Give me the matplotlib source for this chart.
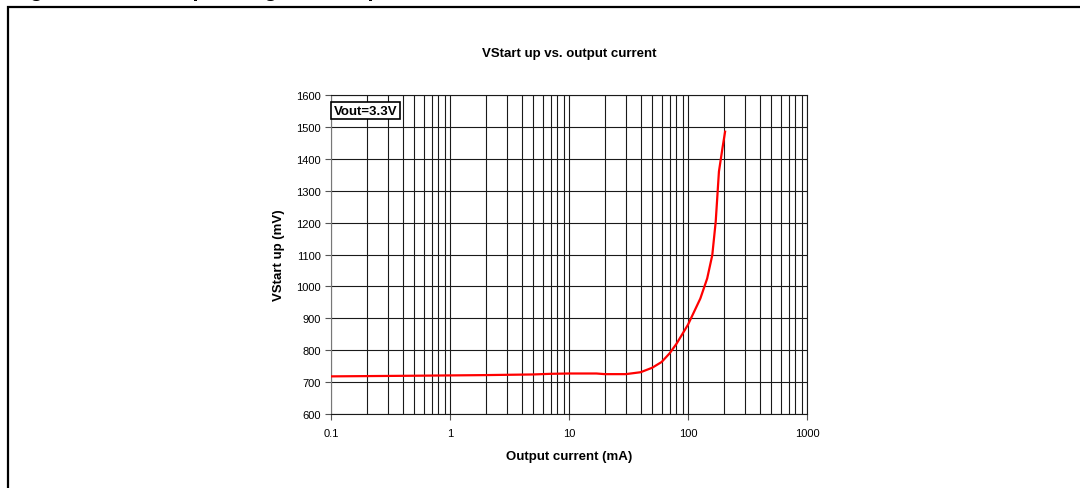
import matplotlib
matplotlib.use('Agg')
import matplotlib.pyplot as plt
from matplotlib.patches import Rectangle
from matplotlib.ticker import LogLocator, NullFormatter, FixedLocator

# Data
current_ma = [0.1, 0.5, 1, 2, 5, 7, 10, 17, 20, 30, 40, 50, 60, 70, 80, 100,
              127, 145, 160, 171, 182, 195, 205]
vstart_mv = [718, 720, 721, 722, 724, 726, 727, 727, 725, 725, 731, 745, 763,
             790, 820, 880, 962, 1025, 1098, 1203, 1360, 1434, 1485]

title = 'VStart up vs. output current'
xlabel = 'Output current (mA)'
ylabel = 'VStart up (mV)'
note = 'Vout=3.3V'
y_ticks = list(range(600, 1700, 100))
x_ticks = [0.1, 1, 10, 100, 1000]
x_ticklabels = ['0.1', '1', '10', '100', '1000']

plt.rcParams['font.family'] = ['Liberation Sans', 'DejaVu Sans']

fig = plt.figure(figsize=(10.8, 4.89), dpi=100)
ax = fig.add_axes([0.3065, 0.1513, 0.4407, 0.6524])

# outer frame of the document figure
fig.patches.append(Rectangle((8 / 1080, -0.05), 1.1, 1 - 8 / 489 + 0.05,
                             transform=fig.transFigure, fill=False,
                             edgecolor='black', linewidth=1.6, clip_on=False))
# clipped heading above the frame (only descenders visible)
fig.text(10 / 1080, 1 + 4 / 489, 'Figure 13. Start-up voltage vs. output current',
         fontsize=16, fontweight='bold', va='baseline', ha='left')

ax.plot(current_ma, vstart_mv, color='#ff0000', linewidth=1.6, zorder=3)

ax.set_xscale('log')
ax.set_xlim(0.1, 1000)
ax.set_ylim(600, 1600)
ax.xaxis.set_major_locator(FixedLocator(x_ticks))
ax.set_xticklabels(x_ticklabels)
ax.xaxis.set_minor_locator(LogLocator(base=10, subs=range(2, 10), numticks=20))
ax.xaxis.set_minor_formatter(NullFormatter())
ax.set_yticks(y_ticks)

ax.grid(True, which='major', axis='both', color='#1a1a1a', linewidth=0.8)
ax.grid(True, which='minor', axis='x', color='#1a1a1a', linewidth=0.8)
ax.tick_params(axis='both', which='major', labelsize=8, direction='out',
               length=4, width=0.8, color='#555555')
ax.tick_params(axis='x', which='minor', length=0)
ax.tick_params(axis='x', which='major', pad=6)

for s in ax.spines.values():
    s.set_color('#1a1a1a')
    s.set_linewidth(0.8)
ax.spines['left'].set_color('#777777')

ax.set_title(title, fontsize=9.5, fontweight='bold', pad=28)
ax.set_xlabel(xlabel, fontsize=9.5, fontweight='bold', labelpad=9)
ax.set_ylabel(ylabel, fontsize=9.5, fontweight='bold')
ax.yaxis.set_label_coords(-0.097, 0.5)

ax.text(0.006, 0.97, note, transform=ax.transAxes, fontsize=9.5,
        fontweight='bold', va='top', ha='left', zorder=5,
        bbox=dict(boxstyle='square,pad=0.22', facecolor='white',
                  edgecolor='black', linewidth=1.2))

fig.savefig('out.png', dpi=100)
